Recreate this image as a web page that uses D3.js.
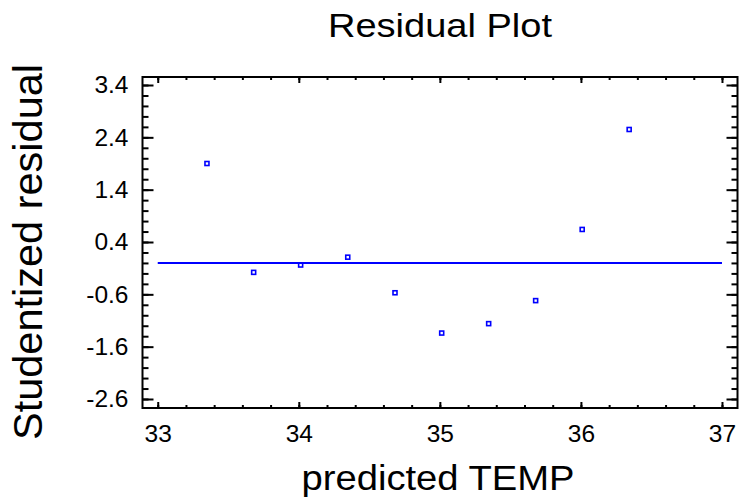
<!DOCTYPE html>
<html>
<head>
<meta charset="utf-8">
<script src="https://cdn.jsdelivr.net/npm/d3@7"></script>
<style>
  body { margin: 0; background: #fff; }
  text { font-family: Arial, "Liberation Sans", sans-serif; fill: #000; }
</style>
</head>
<body>
<div class="graph"></div>
<script>
const w = 739;
const h = 504;
const margin = {top: 77, right: 1.5, bottom: 96, left: 142.5};

// predicted TEMP vs studentized residual
const predicted = [33.349, 33.680, 34.013, 34.347, 34.682, 35.013, 35.346, 35.679, 36.009, 36.342];
const residual = [1.90, -0.18, -0.04, 0.11, -0.57, -1.34, -1.16, -0.72, 0.64, 2.55];
const xTicks = [33, 34, 35, 36, 37];
const yTicks = [3.4, 2.4, 1.4, 0.4, -0.6, -1.6, -2.6];
const zeroLine = [33, 37];

const canvas = d3.select('.graph')
               .append("svg")
               .attr("width", w)
               .attr("height", h);

const xScale = d3.scaleLinear()
                 .domain([32.892, 37.11])
                 .range([margin.left, w - margin.right]);

const yScale = d3.scaleLinear()
                 .domain([-2.772, 3.553])
                 .range([h - margin.bottom, margin.top]);

const xMinor = d3.range(33, 37.01, 0.2);
const yMinor = d3.range(-2.6, 3.41, 0.2);
const yFormat = d3.formatLocale({decimal: ".", thousands: ",", grouping: [3], currency: ["", ""], minus: "-"}).format(".1f");

//bottom + top axes
canvas.append("g")
      .attr("transform", `translate(0, ${h - margin.bottom})`)
      .call(d3.axisBottom(xScale).tickValues(xMinor).tickSize(-3).tickFormat(""));
canvas.append("g")
      .attr("class", "x-axis")
      .attr("transform", `translate(0, ${h - margin.bottom})`)
      .call(d3.axisBottom(xScale).tickValues(xTicks).tickSize(-6).tickPadding(17).tickFormat(d3.format("d")));
canvas.append("g")
      .attr("transform", `translate(0, ${margin.top})`)
      .call(d3.axisTop(xScale).tickValues(xMinor).tickSize(-3).tickFormat(""));
canvas.append("g")
      .attr("transform", `translate(0, ${margin.top})`)
      .call(d3.axisTop(xScale).tickValues(xTicks).tickSize(-6).tickFormat(""));

//left + right axes
canvas.append("g")
      .attr("transform", `translate(${margin.left}, 0)`)
      .call(d3.axisLeft(yScale).tickValues(yMinor).tickSize(-6).tickFormat(""));
canvas.append("g")
      .attr("class", "y-axis")
      .attr("transform", `translate(${margin.left}, 0)`)
      .call(d3.axisLeft(yScale).tickValues(yTicks).tickSize(-11).tickPadding(14).tickFormat(yFormat));
canvas.append("g")
      .attr("transform", `translate(${w - margin.right}, 0)`)
      .call(d3.axisRight(yScale).tickValues(yMinor).tickSize(-6).tickFormat(""));
canvas.append("g")
      .attr("transform", `translate(${w - margin.right}, 0)`)
      .call(d3.axisRight(yScale).tickValues(yTicks).tickSize(-11).tickFormat(""));

canvas.selectAll(".domain").remove();
canvas.selectAll(".tick line").attr("stroke", "#000").attr("stroke-width", 2);
canvas.selectAll(".x-axis text, .y-axis text").attr("font-size", 24.5);

//frame
canvas.append("rect")
      .attr("x", margin.left)
      .attr("y", margin.top)
      .attr("width", w - margin.left - margin.right)
      .attr("height", h - margin.top - margin.bottom)
      .attr("fill", "none")
      .attr("stroke", "#000")
      .attr("stroke-width", 2);

//zero line
canvas.append("line")
      .attr("x1", xScale(zeroLine[0]))
      .attr("x2", xScale(zeroLine[1]))
      .attr("y1", yScale(0))
      .attr("y2", yScale(0))
      .attr("stroke", "#0000ff")
      .attr("stroke-width", 2);

//points
canvas.selectAll("rect.pt")
      .data(predicted.map((d, i) => [d, residual[i]]))
      .enter().append("rect")
      .attr("class", "pt")
      .attr("x", d => xScale(d[0]) - 2)
      .attr("y", d => yScale(d[1]) - 2)
      .attr("width", 4)
      .attr("height", 4)
      .attr("fill", "none")
      .attr("stroke", "#0000ff")
      .attr("stroke-width", 1.6);

//labels
canvas.append("text")
      .attr("x", 440)
      .attr("y", 37)
      .attr("text-anchor", "middle")
      .attr("font-size", 33)
      .attr("textLength", 224)
      .attr("lengthAdjust", "spacingAndGlyphs")
      .text("Residual Plot");

canvas.append("text")
      .attr("x", 438)
      .attr("y", 490)
      .attr("text-anchor", "middle")
      .attr("font-size", 35)
      .attr("textLength", 273)
      .attr("lengthAdjust", "spacingAndGlyphs")
      .text("predicted TEMP");

canvas.append("text")
      .attr("transform", "translate(42, 252) rotate(-90)")
      .attr("text-anchor", "middle")
      .attr("font-size", 41.5)
      .text("Studentized residual");
</script>
</body>
</html>
